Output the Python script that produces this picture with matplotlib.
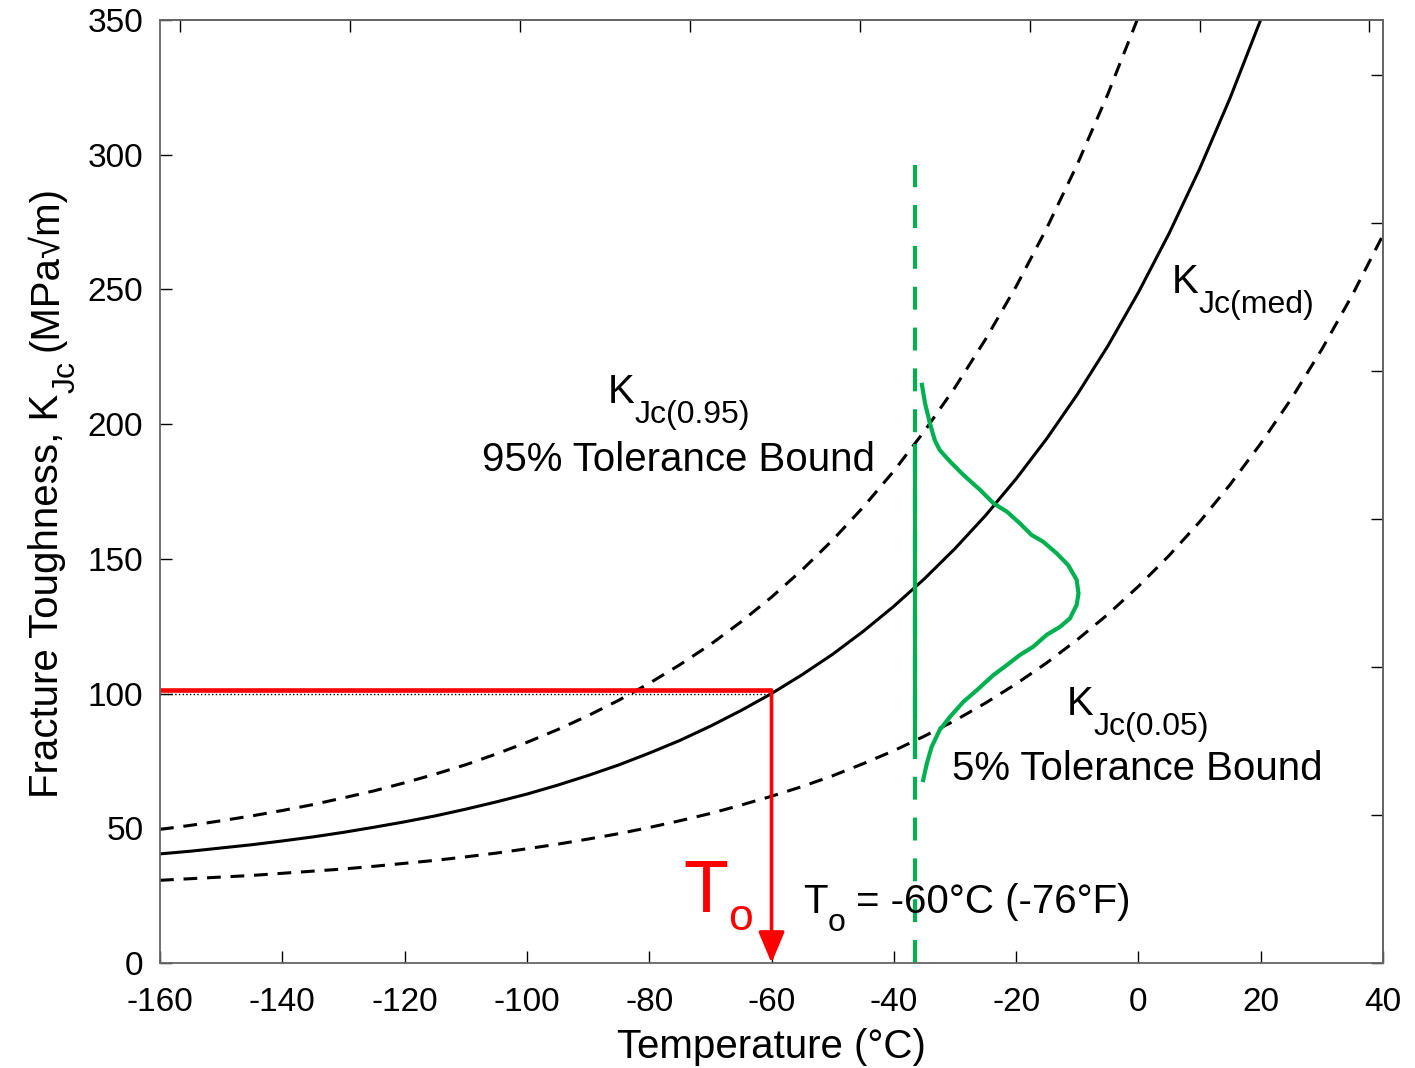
import numpy as np
import matplotlib
matplotlib.use('Agg')
import matplotlib.pyplot as plt
from matplotlib.transforms import IdentityTransform

plt.rcParams['font.family'] = ['Liberation Sans', 'DejaVu Sans']
plt.rcParams['axes.unicode_minus'] = False

# Температура, °C (шаг 5)
temp = [-160, -155, -150, -145, -140, -135, -130, -125, -120, -115, -110,
        -105, -100, -95, -90, -85, -80, -75, -70, -65, -60, -55, -50, -45,
        -40, -35, -30, -25, -20, -15, -10, -5, 0, 5, 10, 15, 20, 25, 30, 35, 40]

# Медианная кривая KJc(med), МПа√м
k_med = [40.5, 41.5, 42.7, 43.9, 45.3, 46.8, 48.5, 50.4, 52.4, 54.6, 57.1,
         59.8, 62.7, 66.0, 69.6, 73.5, 77.9, 82.6, 87.9, 93.7, 100.0, 107.0,
         114.6, 123.1, 132.4, 142.6, 153.8, 166.1, 179.7, 194.6, 211.0, 229.0,
         248.9, 270.7, 294.7, 321.1, 350.1]

# Верхняя граница 95%
k_95 = [49.6, 51.1, 52.8, 54.6, 56.6, 58.8, 61.3, 63.9, 66.9, 70.1, 73.6,
        77.6, 81.9, 86.6, 91.8, 97.5, 103.8, 110.7, 118.2, 126.6, 135.8, 145.9,
        157.0, 169.2, 182.6, 197.4, 213.6, 231.5, 251.1, 272.7, 296.4, 322.5,
        351.2]

# Нижняя граница 5%
k_05 = [30.7, 31.3, 31.9, 32.5, 33.3, 34.1, 34.9, 35.9, 37.0, 38.1, 39.4,
        40.8, 42.4, 44.1, 46.0, 48.0, 50.3, 52.8, 55.5, 58.6, 61.9, 65.5, 69.5,
        74.0, 78.8, 84.2, 90.0, 96.5, 103.6, 111.4, 120.0, 129.4, 139.8, 151.2,
        163.7, 177.6, 192.8, 209.4, 227.8, 248.0, 270.2]

# Плотность распределения при T = -36.6 °C (отложена по горизонтали)
pdf_t = [-35.4, -34.9, -34.1, -33.3, -32.5, -30.8, -28.6, -25.9, -23.7, -21.5,
         -19.4, -17.5, -15.6, -13.4, -11.5, -10.1, -9.8, -10.1, -11.2, -12.8,
         -15.0, -17.2, -19.4, -21.5, -23.7, -26.4, -28.6, -30.8, -32.5, -33.8,
         -34.6, -35.2]
pdf_k = [214.6, 207.8, 200.3, 194.0, 190.4, 186.1, 181.1, 175.6, 170.6, 167.5,
         163.2, 158.9, 156.4, 152.1, 147.7, 142.2, 137.2, 132.9, 127.9, 124.8,
         121.8, 117.4, 114.3, 110.6, 106.9, 101.3, 97.0, 91.4, 86.5, 80.3,
         74.1, 67.9]

t_line = -36.6
t0 = -60.0
k_ref = 100.0

fig = plt.figure(figsize=(14.15, 10.68), dpi=100)
ax = fig.add_axes([0.1131, 0.0983, 0.8643, 0.883])

ax.plot(temp[:len(k_95)], k_95, color='k', lw=2.2, ls=(0, (4.5, 3.2)))
ax.plot(temp[:len(k_med)], k_med, color='k', lw=2.2)
ax.plot(temp[:len(k_05)], k_05, color='k', lw=2.2, ls=(0, (4.5, 3.2)))

# Распределение Вейбулла
ax.plot([t_line, t_line], [0, 296], color='#00b050', lw=3, ls=(0, (5.5, 4.3)))
ax.plot([t_line, t_line], [76.5, 192], color='#00b050', lw=3)
ax.plot(pdf_t, pdf_k, color='#00b050', lw=3)

# Определение T0
ax.plot([-160, t0], [k_ref, k_ref], color='k', lw=1, ls=':')
ax.plot([-160, t0], [k_ref + 1.2, k_ref + 1.2], color='red', lw=3.3,
        solid_capstyle='butt')
ax.annotate('', xy=(t0, 0), xytext=(t0, k_ref + 1.2),
            arrowprops=dict(arrowstyle='-|>,head_length=1.9,head_width=0.8',
                            color='red', lw=2.6, shrinkA=0, shrinkB=0))

ax.set_xlim(-160, 40)
ax.set_ylim(0, 350)
ax.set_xticks(np.arange(-160, 41, 20))
ax.set_yticks(np.arange(0, 351, 50))
ax.tick_params(direction='in', length=8.5, width=1, labelsize=24, colors='k')
ax.tick_params(axis='x', pad=17)
ax.tick_params(axis='y', pad=12)
ax.set_xlabel('Temperature (°C)', fontsize=29, labelpad=7.5)
for s in ax.spines.values():
    s.set_color('#666666')
    s.set_linewidth(1.3)

# Вторые шкалы: °F сверху и ksi√in справа
top = ax.secondary_xaxis('top', functions=(lambda c: c * 9 / 5 + 32,
                                            lambda f: (f - 32) * 5 / 9))
top.set_xticks(np.arange(-250, 101, 50))
top.tick_params(direction='in', length=8.5, width=1, labeltop=False)
top.spines['top'].set_color('#666666')
top.spines['top'].set_linewidth(1.3)

right = ax.secondary_yaxis('right', functions=(lambda k: k / 1.0988,
                                                lambda k: k * 1.0988))
right.set_yticks(np.arange(0, 301, 50))
right.tick_params(direction='in', length=8.5, width=1, labelright=False)
right.spines['right'].set_color('#666666')
right.spines['right'].set_linewidth(1.3)

# Подписи с крупными нижними индексами (по пикселям)
renderer = fig.canvas.get_renderer()


def rich_text(x, y, parts, ha='left', color='k', rotation=0):
    # parts: (строка, размер, сдвиг индекса вниз в px, зазор перед в px)
    arts, widths = [], []
    for s, size, drop, gap in parts:
        t = fig.text(0, 0, s, fontsize=size, color=color,
                     transform=IdentityTransform(), ha='left', va='baseline',
                     rotation=rotation, rotation_mode='anchor')
        bb = t.get_window_extent(renderer)
        arts.append(t)
        widths.append(bb.height if rotation == 90 else bb.width)
    total = sum(widths) + sum(p[3] for p in parts)
    start = y if rotation == 90 else x
    pos = start - total / 2 if ha == 'center' else start
    for t, w, (s, size, drop, gap) in zip(arts, widths, parts):
        pos += gap
        if rotation == 90:
            t.set_position((x + drop, pos))
        else:
            t.set_position((pos, y - drop))
        pos += w


def at(tx, k):
    return ax.transData.transform((tx, k))


fs, fsub = 29, 23
rich_text(*at(-74.4, 19.0), [('T', 53, 0, 0), ('o', 32, 18, 0)],
          color='red')
rich_text(*at(-54.8, 18.4), [('T', fs, 0, 0), ('o', fsub, 18, 0),
                             ('= -60°C (-76°F)', fs, 0, 10)])
rich_text(*at(-75.2, 207.9), [('K', fs, 0, 0), ('Jc(0.95)', fsub, 20, 0)],
          ha='center')
rich_text(*at(-75.2, 182.6), [('95% Tolerance Bound', fs, 0, 0)], ha='center')
rich_text(*at(5.45, 248.6), [('K', fs, 0, 0), ('Jc(med)', fsub, 20, 0)])
rich_text(*at(-11.7, 92.1), [('K', fs, 0, 0), ('Jc(0.05)', fsub, 20, 0)])
rich_text(*at(-0.15, 67.9), [('5% Tolerance Bound', fs, 0, 0)], ha='center')

# Подпись оси Y
rich_text(58, 1068 - 492, [('Fracture Toughness, K', fs, 0, 0),
                           ('Jc', fsub, 17, 0), ('(MPa√m)', fs, 0, 10)],
          ha='center', rotation=90)

plt.savefig('out.png', dpi=100)
